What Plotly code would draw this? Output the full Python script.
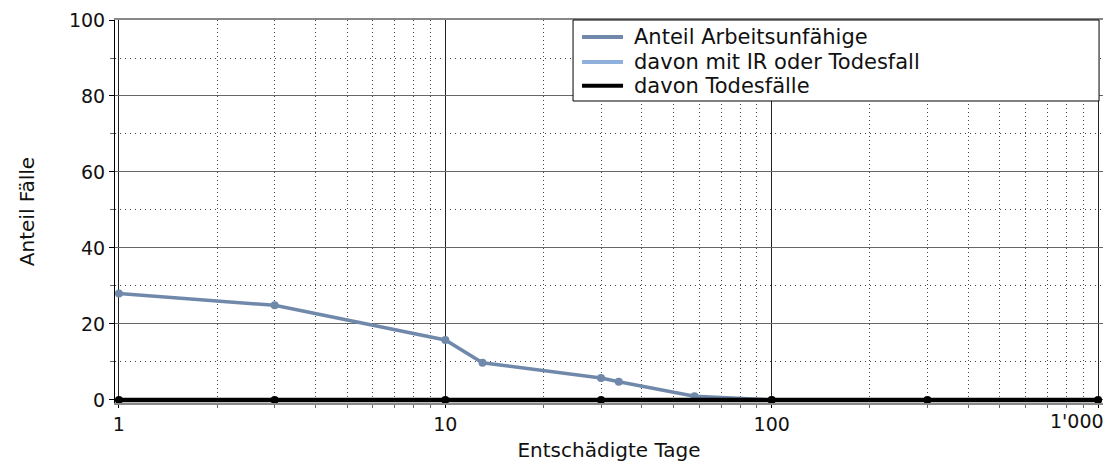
import plotly.graph_objects as go

# Data
tage_au = [1, 3, 10, 13, 30, 34, 58, 100]
anteil_au = [28, 24.9, 15.8, 9.8, 5.8, 4.8, 1.0, 0]
tage_ir = [1, 3, 10, 30, 100, 300, 1000]
anteil_ir = [0, 0, 0, 0, 0, 0, 0]
tage_tod = [1, 3, 10, 30, 100, 300, 1000]
anteil_tod = [0, 0, 0, 0, 0, 0, 0]
x_tickvals = [1, 10, 100, 1000]
x_ticktext = ["1", "10", "100", ""]
last_tick_label = "1'000"
series_names = ["Anteil Arbeitsunfähige", "davon mit IR oder Todesfall", "davon Todesfälle"]
series_colors = ["#7089AB", "#8FB0DA", "#000000"]

FONT = "DejaVu Sans, Verdana, sans-serif"

fig = go.Figure()
fig.add_trace(go.Scatter(
    x=tage_au, y=anteil_au, mode="lines+markers", name=series_names[0], showlegend=False,
    line=dict(color=series_colors[0], width=3.5), marker=dict(color=series_colors[0], size=8),
    cliponaxis=False,
))
fig.add_trace(go.Scatter(
    x=tage_ir, y=anteil_ir, mode="lines", name=series_names[1], showlegend=False,
    line=dict(color=series_colors[1], width=3), cliponaxis=False,
))
fig.add_trace(go.Scatter(
    x=tage_tod, y=anteil_tod, mode="lines+markers", name=series_names[2], showlegend=False,
    line=dict(color=series_colors[2], width=4.5), marker=dict(color=series_colors[2], size=8),
    cliponaxis=False,
))

# legend frame, samples and labels (paper coordinates)
fig.add_shape(type="rect", xref="paper", yref="paper",
              x0=0.4636, x1=0.996, y0=0.7885, y1=1.0,
              line=dict(color="#000", width=1), fillcolor="white", layer="above")
legend_rows = [0.9556, 0.8903, 0.8285]
for name, col, yy in zip(series_names, series_colors, legend_rows):
    fig.add_shape(type="line", xref="paper", yref="paper",
                  x0=0.4727, x1=0.5142, y0=yy, y1=yy,
                  line=dict(color=col, width=4), layer="above")
    fig.add_annotation(text=name, xref="paper", yref="paper",
                       x=0.5233, y=yy, xanchor="left", yanchor="middle",
                       showarrow=False, font=dict(size=21, family=FONT, color="#111"))

fig.add_annotation(text=last_tick_label, xref="paper", yref="paper",
                   x=1, y=0, xanchor="right", yanchor="top", xshift=3, yshift=-5,
                   showarrow=False, font=dict(size=19, family=FONT, color="#111"))

fig.update_layout(
    width=1106, height=466,
    margin=dict(l=115, r=3, t=20, b=63),
    paper_bgcolor="white", plot_bgcolor="white",
    font=dict(family=FONT, size=19, color="#111"),
    showlegend=False,
    xaxis=dict(
        type="log", range=[-0.012, 3.015],
        tickmode="array", tickvals=x_tickvals, ticktext=x_ticktext,
        ticks="outside", ticklen=3, tickcolor="#000",
        showgrid=True, gridcolor="#222", gridwidth=1,
        minor=dict(dtick="D1", ticks="outside", ticklen=3, tickcolor="#666",
                   showgrid=True, gridcolor="#444", griddash="1px,3px", gridwidth=1),
        showline=True, linecolor="#888", mirror=True, linewidth=2,
        zeroline=False,
        title=dict(text="Entschädigte Tage", font=dict(size=20), standoff=9),
        tickfont=dict(size=19),
    ),
    yaxis=dict(
        range=[-0.8, 100], tickvals=[0, 20, 40, 60, 80, 100],
        ticks="outside", ticklen=5, tickcolor="#000",
        showgrid=True, gridcolor="#666", gridwidth=1,
        minor=dict(tickvals=[10, 30, 50, 70, 90], ticks="outside", ticklen=4, tickcolor="#666",
                   showgrid=True, gridcolor="#444", griddash="1px,4px", gridwidth=1),
        showline=True, linecolor="#000", linewidth=1,
        zeroline=False,
        title=dict(text="Anteil Fälle", font=dict(size=20), standoff=28),
        tickfont=dict(size=19),
    ),
)

fig.write_html("out.html", config={"displayModeBar": False},
               post_script="document.body.style.margin='0px';")
